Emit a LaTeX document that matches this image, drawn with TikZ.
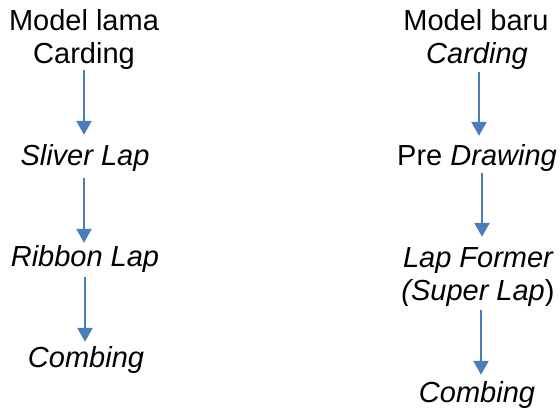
\documentclass[tikz,border=0pt]{standalone}
\usepackage{fontspec}
\setmainfont{Liberation Sans}
\usetikzlibrary{arrows.meta}
\definecolor{flowblue}{RGB}{74,126,187}

\begin{document}
\begin{tikzpicture}[x=1pt,y=-1pt,
  label/.style={anchor=base,inner sep=0pt,text height=21pt,text depth=6pt,
    font=\fontsize{29}{33}\selectfont},
  flow/.style={-{Triangle[width=15pt,length=14pt]},flowblue,line width=2.5pt,
    shorten <=4pt,shorten >=6pt}]
\useasboundingbox (0,0) rectangle (560,408);

% Old model (left column)
\node[label] (oldtitle) at (84,30) {Model lama};
\node[label] (oldcard) at (84,63) {Carding};
\node[label] (sliver) at (85,165) {\itshape Sliver Lap};
\node[label] (ribbon) at (85,266) {\itshape Ribbon Lap};
\node[label] (oldcomb) at (86,367) {\itshape Combing};

\draw[flow,shorten <=1pt,shorten >=9pt] (oldcard.south -| 84,0) -- (sliver.north -| 84,0);
\draw[flow,shorten <=7pt,shorten >=2pt] (sliver.south -| 84,0) -- (ribbon.north -| 84,0);
\draw[flow,shorten <=5pt,shorten >=4pt] (ribbon.south -| 85,0) -- (oldcomb.north -| 85,0);

% New model (right column)
\node[label] (newtitle) at (476,30) {Model baru};
\node[label] (newcard) at (477,63) {\itshape Carding};
\node[label] (predraw) at (477,165) {Pre \textit{Drawing}};
\node[label] (former) at (478,267) {\itshape Lap Former};
\node[label] (superlap) at (478,300) {\textit{(Super Lap})};
\node[label] (newcomb) at (477,402) {\itshape Combing};

\draw[flow,shorten <=3pt,shorten >=8pt] (newcard.south -| 479,0) -- (predraw.north -| 479,0);
\draw[flow,shorten <=2pt,shorten >=9pt] (predraw.south -| 482,0) -- (former.north -| 482,0);
\draw[flow,shorten <=4pt,shorten >=6pt] (superlap.south -| 481,0) -- (newcomb.north -| 481,0);
\end{tikzpicture}
\end{document}
